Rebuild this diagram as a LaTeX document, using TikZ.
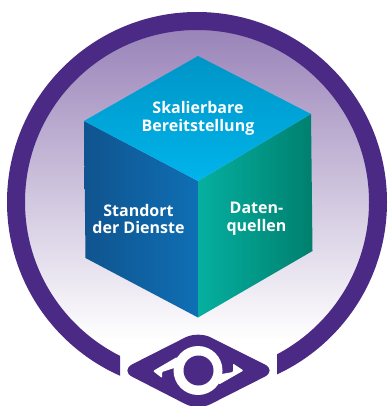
\documentclass[tikz,border=0pt]{standalone}
\usepackage{fontspec}
\setmainfont{Open Sans}
\definecolor{ringc}{HTML}{4A2A84}
\definecolor{discA}{HTML}{9A84B9}
\definecolor{discB}{HTML}{C6BBDA}
\definecolor{leftA}{HTML}{0F548F}
\definecolor{leftB}{HTML}{0F6FB4}
\definecolor{rightA}{HTML}{05B0A0}
\definecolor{rightB}{HTML}{007F6E}
\definecolor{topA}{HTML}{0095C6}
\definecolor{topB}{HTML}{00B4EB}
\tikzset{
 lbl/.style={text=white,font=\bfseries\fontsize{16}{17.8}\selectfont,align=center,inner sep=0pt}
}
\begin{document}
\begin{tikzpicture}[x=1pt,y=-1pt]
\useasboundingbox (0,0) rectangle (388,406);
\fill[white] (0,0) rectangle (388,406);
% disc
\begin{scope}
\clip (197,202) circle (175);
\shade[top color=discA,middle color=discB,bottom color=white] (0,30) rectangle (388,340);
\end{scope}
% ring
\begin{scope}
\clip (0,0) rectangle (120,406) (277,0) rectangle (388,406) (120,0) rectangle (277,200);
\fill[ringc,even odd rule] (197,202) circle (190) (197,202) circle (172);
\end{scope}
% cube
\coordinate (T) at (198,56);
\coordinate (L) at (84,121);
\coordinate (R) at (311,114);
\coordinate (C) at (198,181);
\coordinate (BL) at (85.5,258);
\coordinate (B) at (198,317.5);
\coordinate (BR) at (312.5,251);
\begin{scope}
\clip (L)--(C)--(B)--(BL)--cycle;
\shade[left color=leftA,right color=leftB] (84,121) rectangle (198,318);
\end{scope}
\begin{scope}
\clip (C)--(R)--(BR)--(B)--cycle;
\shade[left color=rightA,right color=rightB] (198,114) rectangle (313,318);
\end{scope}
\begin{scope}
\clip (T)--(R)--(C)--(L)--cycle;
\shade[top color=topA,bottom color=topB] (84,56) rectangle (311,181);
\end{scope}
\node[lbl] (a) at (198,118.5) {Skalierbare\\Bereitstellung};
\node[lbl] (b) at (138.5,219) {Standort\\der Dienste};
\node[lbl] (c) at (256.5,219) {Daten-\\quellen};
% eye
\fill[ringc,rounded corners=14pt] (120,370.5) -- (198,331) -- (277,370.5) -- (198,410.5) -- cycle;
\fill[white] (198,370.5) circle (24.5);
\fill[white,rounded corners=1pt] (153,371) -- (177,357) -- (180,366) -- (162,372) -- (162,378) -- cycle;
\fill[white,rounded corners=1pt] (243.5,370.5) -- (219,384.5) -- (216,375) -- (233,372) -- (233,363.5) -- cycle;
\fill[ringc] (198.5,370.5) circle (15);
\end{tikzpicture}
\end{document}
